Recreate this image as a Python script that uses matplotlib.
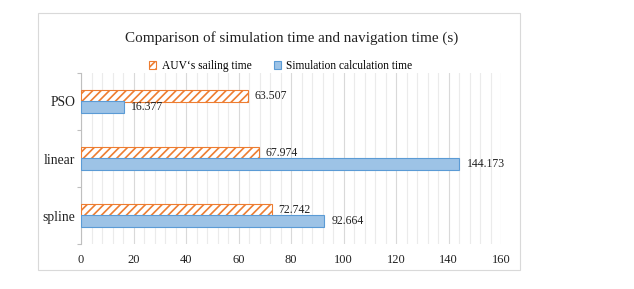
import matplotlib
matplotlib.use("Agg")
import matplotlib.pyplot as plt
from matplotlib.patches import Rectangle, Patch
import numpy as np

categories = ["spline", "linear", "PSO"]
sailing_time = [72.742, 67.974, 63.507]
simulation_time = [92.664, 144.173, 16.377]
series_names = ["AUV\u2018s sailing time", "Simulation calculation time"]
title = "Comparison of simulation time and navigation time (s)"

plt.rcParams['font.family'] = ['Liberation Serif', 'DejaVu Serif']
plt.rcParams['hatch.linewidth'] = 1.2
plt.rcParams['hatch.color'] = '#ED7D31'

fig = plt.figure(figsize=(6.34, 2.89), dpi=100)
fig.patches.append(Rectangle((38/634, 1-270/289), (520-38)/634, (270-13)/289,
                             transform=fig.transFigure, fill=False,
                             edgecolor='#D9D9D9', linewidth=0.8))
ax = fig.add_axes([81/634, 1-244/289, (501-81)/634, (244-73)/289])

y = np.arange(len(categories))
h = 0.21
orange = '#ED7D31'
blue_face = '#9DC3E6'
blue_edge = '#5B9BD5'

b1 = ax.barh(y + h/2, sailing_time, height=h, facecolor='white', edgecolor=orange,
             hatch='////', linewidth=0.8, zorder=3)
b2 = ax.barh(y - h/2, simulation_time, height=h, facecolor=blue_face, edgecolor=blue_edge,
             linewidth=0.8, zorder=3)

for yy, v in zip(y + h/2, sailing_time):
    ax.text(v + 2.4, yy, f"{v:.3f}", va='center', ha='left', fontsize=8.5, color='#222222')
for yy, v in zip(y - h/2, simulation_time):
    ax.text(v + 2.8, yy, f"{v:.3f}", va='center', ha='left', fontsize=8.5, color='#222222')

ax.set_xlim(0, 160)
ax.set_ylim(-0.5, 2.5)
ax.set_xticks(np.arange(0, 161, 20))
ax.set_xticks(np.arange(0, 161, 4), minor=True)
ax.grid(axis='x', which='major', color='#D9D9D9', linewidth=0.8, zorder=0)
ax.grid(axis='x', which='minor', color='#EBEBEB', linewidth=0.8, zorder=0)
ax.set_axisbelow(True)
ax.set_yticks(y)
ax.set_yticklabels(categories)
ax.set_yticks([-0.5, 0.5, 1.5, 2.5], minor=True)
ax.tick_params(axis='y', which='major', length=0, labelsize=9.8, pad=4, colors='#222222')
ax.tick_params(axis='y', which='minor', length=3, color='#BFBFBF', width=0.8)
ax.tick_params(axis='x', which='both', length=0, labelsize=9, pad=7, colors='#222222')
ax.tick_params(axis='x', which='minor', labelbottom=False)
for s in ['top', 'right', 'bottom']:
    ax.spines[s].set_visible(False)
ax.spines['left'].set_color('#BFBFBF')
ax.spines['left'].set_linewidth(0.8)

fig.text(292/634, 1-38/289, title, ha='center', va='center', fontsize=10.9, color='#222222')

handles = [Patch(facecolor='white', edgecolor=orange, hatch='////', linewidth=0.8),
           Patch(facecolor=blue_face, edgecolor=blue_edge, linewidth=0.8)]
fig.legend(handles, series_names, loc='center', bbox_to_anchor=(281/634, 1-66/289),
           ncol=2, frameon=False, fontsize=8.3, handlelength=0.6, handleheight=0.6,
           columnspacing=1.9, handletextpad=0.5, borderpad=0.1)

fig.savefig("out.png", dpi=100)
